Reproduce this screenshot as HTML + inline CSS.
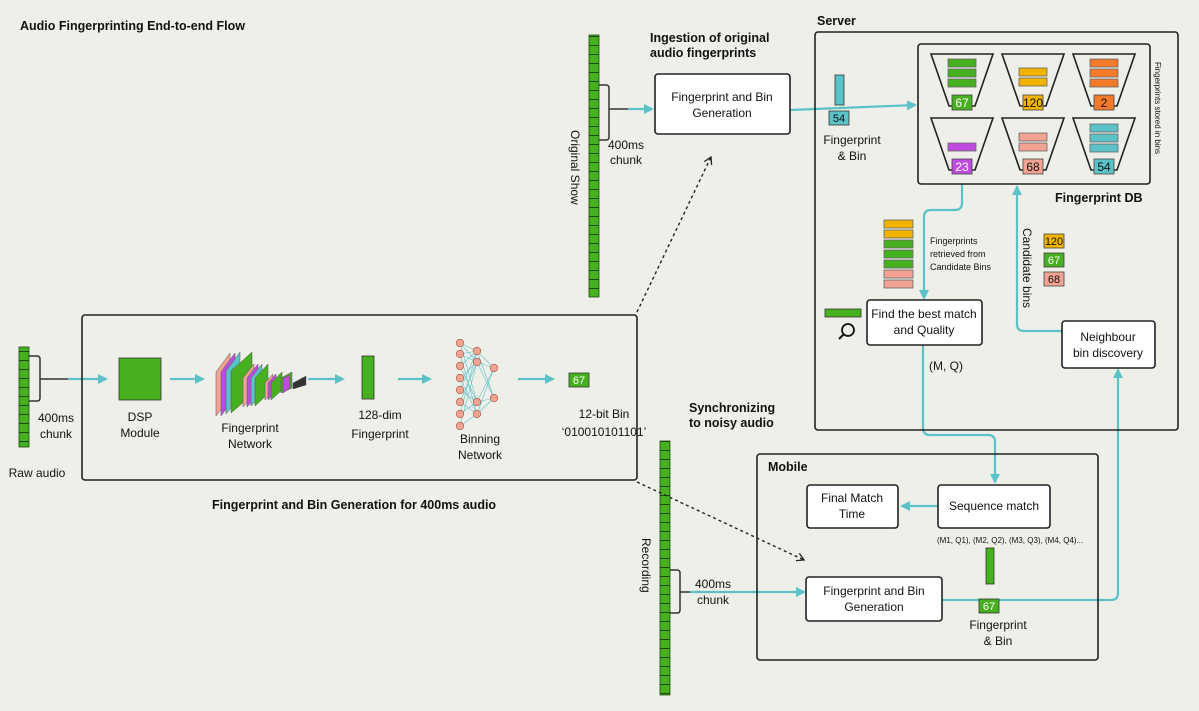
<!DOCTYPE html>
<html><head><meta charset="utf-8"><style>
html,body{margin:0;padding:0;background:#efefea;}
svg{display:block;font-family:"Liberation Sans",sans-serif;}
</style></head><body>
<svg width="1199" height="711" viewBox="0 0 1199 711" xmlns="http://www.w3.org/2000/svg">
<defs>
<pattern id="seg" width="10" height="9" patternUnits="userSpaceOnUse"><rect width="10" height="9" fill="#46b01f"/><line x1="0" y1="0.5" x2="10" y2="0.5" stroke="#1d4a10" stroke-width="1"/></pattern>
<marker id="ta" markerWidth="10" markerHeight="10" refX="8" refY="5" orient="auto" markerUnits="userSpaceOnUse"><path d="M0,0 L10,5 L0,10 z" fill="#5bc2c8"/></marker>
<marker id="da" markerWidth="10" markerHeight="10" refX="8" refY="5" orient="auto" markerUnits="userSpaceOnUse"><path d="M1,1 L8,5 L1,9" fill="none" stroke="#222" stroke-width="1.3"/></marker>
<path id="trap" d="M-31,0 L31,0 L13,52 L-13,52 Z" fill="none" stroke="#222" stroke-width="1.6"/>
</defs>
<rect width="1199" height="711" fill="#efefea"/>
<g font-weight="bold" font-size="12.5" fill="#111">
<text x="20" y="30">Audio Fingerprinting End-to-end Flow</text>
<text x="650" y="42">Ingestion of original</text>
<text x="650" y="57">audio fingerprints</text>
<text x="817" y="25">Server</text>
<text x="1055" y="202">Fingerprint DB</text>
<text x="689" y="412">Synchronizing</text>
<text x="689" y="427">to noisy audio</text>
<text x="768" y="471">Mobile</text>
<text x="212" y="509">Fingerprint and Bin Generation for 400ms audio</text>
</g>

<!-- strips -->
<rect x="589" y="35" width="10" height="262" fill="url(#seg)" stroke="#1d4a10" stroke-width="0.8"/>
<rect x="660" y="441" width="10" height="254" fill="url(#seg)" stroke="#1d4a10" stroke-width="0.8"/>
<rect x="19" y="347" width="10" height="100" fill="url(#seg)" stroke="#1d4a10" stroke-width="0.8"/>

<g fill="none" stroke="#333" stroke-width="1.5">
<path d="M599,85 H606 Q609,85 609,88 V137 Q609,140 606,140 H599"/>
<path d="M609,109 H628"/>
<path d="M670,570 H677 Q680,570 680,573 V610 Q680,613 677,613 H670"/>
<path d="M680,592 H690"/>
<path d="M29,356 H37 Q40,356 40,359 V398 Q40,401 37,401 H29"/>
<path d="M40,379 H68"/>
</g>
<g font-size="12" fill="#111" text-anchor="middle">
<text x="626" y="149">400ms</text><text x="626" y="164">chunk</text>
<text x="713" y="588">400ms</text><text x="713" y="604">chunk</text>
<text x="56" y="422">400ms</text><text x="56" y="438">chunk</text>
<text x="37" y="477">Raw audio</text>
</g>
<text transform="translate(571,130) rotate(90)" font-size="12" fill="#111">Original Show</text>
<text transform="translate(642,538) rotate(90)" font-size="12" fill="#111">Recording</text>

<!-- teal connectors -->
<g fill="none" stroke="#5bc2c8" stroke-width="2.2">
<path d="M628,109 H652" marker-end="url(#ta)"/>
<path d="M690,592 H804" marker-end="url(#ta)"/>
<path d="M68,379 H106" marker-end="url(#ta)"/>
<path d="M170,379 H203" marker-end="url(#ta)"/>
<path d="M308,379 H343" marker-end="url(#ta)"/>
<path d="M398,379 H430" marker-end="url(#ta)"/>
<path d="M518,379 H553" marker-end="url(#ta)"/>
<path d="M790,110 L915,105" marker-end="url(#ta)"/>
<path d="M962,184 V203 Q962,210 955,210 H931 Q924,210 924,217 V298" marker-end="url(#ta)"/>
<path d="M1062,331 H1024 Q1017,331 1017,324 V187" marker-end="url(#ta)"/>
<path d="M923,345 V428 Q923,435 930,435 H988 Q995,435 995,442 V482" marker-end="url(#ta)"/>
<path d="M938,506 H902" marker-end="url(#ta)"/>
<path d="M942,600 H1111 Q1118,600 1118,593 V370" marker-end="url(#ta)"/>
</g>
<g fill="none" stroke="#222" stroke-width="1.4" stroke-dasharray="3,3">
<path d="M637,312 L711,157" marker-end="url(#da)"/>
<path d="M637,482 L804,560" marker-end="url(#da)"/>
</g>

<!-- boxes -->
<g fill="none" stroke="#222" stroke-width="1.6">
<rect x="82" y="315" width="555" height="165" rx="3"/>
<rect x="815" y="32" width="363" height="398" rx="3"/>
<rect x="918" y="44" width="232" height="140" rx="3"/>
<rect x="757" y="454" width="341" height="206" rx="3"/>
</g>
<g fill="#fff" stroke="#222" stroke-width="1.6">
<rect x="655" y="74" width="135" height="60" rx="3"/>
<rect x="867" y="300" width="115" height="45" rx="3"/>
<rect x="1062" y="321" width="93" height="47" rx="3"/>
<rect x="807" y="485" width="91" height="43" rx="3"/>
<rect x="938" y="485" width="112" height="43" rx="3"/>
<rect x="806" y="577" width="136" height="44" rx="3"/>
</g>
<g font-size="12" fill="#111" text-anchor="middle">
<text x="722" y="101">Fingerprint and Bin</text><text x="722" y="117">Generation</text>
<text x="924" y="318">Find the best match</text><text x="924" y="334">and Quality</text>
<text x="1108" y="341">Neighbour</text><text x="1108" y="357">bin discovery</text>
<text x="852" y="502">Final Match</text><text x="852" y="518">Time</text>
<text x="994" y="510">Sequence match</text>
<text x="874" y="595">Fingerprint and Bin</text><text x="874" y="611">Generation</text>
<text x="852" y="144">Fingerprint</text><text x="852" y="160">&amp; Bin</text>
<text x="998" y="629">Fingerprint</text><text x="998" y="645">&amp; Bin</text>
<text x="946" y="370">(M, Q)</text>
<text x="140" y="421">DSP</text><text x="140" y="437">Module</text>
<text x="250" y="432">Fingerprint</text><text x="250" y="448">Network</text>
<text x="380" y="419">128-dim</text><text x="380" y="438">Fingerprint</text>
<text x="480" y="443">Binning</text><text x="480" y="459">Network</text>
<text x="604" y="418">12-bit Bin</text><text x="604" y="436">‘010010101101’</text>
</g>
<text x="937" y="543" font-size="8" fill="#111">(M1, Q1), (M2, Q2), (M3, Q3), (M4, Q4)...</text>
<g font-size="9" fill="#111"><text x="930" y="244">Fingerprints</text><text x="930" y="257">retrieved from</text><text x="930" y="270">Candidate Bins</text></g>
<text transform="translate(1155,62) rotate(90)" font-size="8" fill="#111">Fingerprints stored in bins</text>
<text transform="translate(1023,228) rotate(90)" font-size="12" fill="#111">Candidate bins</text>

<!-- small elements -->
<rect x="835" y="75" width="9" height="30" fill="#5bc2c8" stroke="#333" stroke-width="0.8"/>
<rect x="829" y="111" width="20" height="14" fill="#5bc2c8" stroke="#333" stroke-width="0.8"/><text x="839" y="122" font-size="11" text-anchor="middle" fill="#111">54</text>
<rect x="986" y="548" width="8" height="36" fill="#46b01f" stroke="#333" stroke-width="0.8"/>
<rect x="979" y="599" width="20" height="14" fill="#46b01f" stroke="#333" stroke-width="0.8"/><text x="989" y="610" font-size="11" text-anchor="middle" fill="#fff">67</text>
<rect x="569" y="373" width="20" height="14" fill="#46b01f" stroke="#333" stroke-width="0.8"/><text x="579" y="384" font-size="11" text-anchor="middle" fill="#fff">67</text>
<rect x="119" y="358" width="42" height="42" fill="#46b01f" stroke="#333" stroke-width="0.8"/>
<rect x="362" y="356" width="12" height="43" fill="#46b01f" stroke="#333" stroke-width="0.8"/>
<rect x="825" y="309" width="36" height="8" fill="#46b01f" stroke="#333" stroke-width="0.8"/>
<circle cx="848" cy="330" r="6" fill="none" stroke="#111" stroke-width="1.8"/><line x1="844" y1="334" x2="839" y2="339" stroke="#111" stroke-width="2"/>
<g stroke="#666" stroke-width="0.8">
<rect x="884" y="220" width="29" height="8" fill="#f0b400"/><rect x="884" y="230" width="29" height="8" fill="#f0b400"/>
<rect x="884" y="240" width="29" height="8" fill="#46b01f"/><rect x="884" y="250" width="29" height="8" fill="#46b01f"/><rect x="884" y="260" width="29" height="8" fill="#46b01f"/>
<rect x="884" y="270" width="29" height="8" fill="#f2a391"/><rect x="884" y="280" width="29" height="8" fill="#f2a391"/>
</g>
<g stroke="#444" stroke-width="0.8" font-size="11" text-anchor="middle">
<rect x="1044" y="234" width="20" height="14" fill="#f0b400"/><text x="1054" y="245" fill="#111" stroke="none">120</text>
<rect x="1044" y="253" width="20" height="14" fill="#46b01f"/><text x="1054" y="264" fill="#fff" stroke="none">67</text>
<rect x="1044" y="272" width="20" height="14" fill="#f2a391"/><text x="1054" y="283" fill="#111" stroke="none">68</text>
</g>

<!-- DB trapezoids -->
<g>
<use href="#trap" x="962" y="54"/><use href="#trap" x="1033" y="54"/><use href="#trap" x="1104" y="54"/>
<use href="#trap" x="962" y="118"/><use href="#trap" x="1033" y="118"/><use href="#trap" x="1104" y="118"/>
</g>
<g stroke="#666" stroke-width="0.8">
<rect x="948" y="59" width="28" height="8" fill="#46b01f"/><rect x="948" y="69" width="28" height="8" fill="#46b01f"/><rect x="948" y="79" width="28" height="8" fill="#46b01f"/>
<rect x="1019" y="68" width="28" height="8" fill="#f0b400"/><rect x="1019" y="78" width="28" height="8" fill="#f0b400"/>
<rect x="1090" y="59" width="28" height="8" fill="#f47a2a"/><rect x="1090" y="69" width="28" height="8" fill="#f47a2a"/><rect x="1090" y="79" width="28" height="8" fill="#f47a2a"/>
<rect x="948" y="143" width="28" height="8" fill="#c04be0"/>
<rect x="1019" y="133" width="28" height="8" fill="#f2a391"/><rect x="1019" y="143" width="28" height="8" fill="#f2a391"/>
<rect x="1090" y="124" width="28" height="8" fill="#5bc2c8"/><rect x="1090" y="134" width="28" height="8" fill="#5bc2c8"/><rect x="1090" y="144" width="28" height="8" fill="#5bc2c8"/>
</g>
<g stroke="#444" stroke-width="0.8" font-size="12" text-anchor="middle">
<rect x="952" y="95" width="20" height="15" fill="#46b01f"/><text x="962" y="107" fill="#fff" stroke="none">67</text>
<rect x="1023" y="95" width="20" height="15" fill="#f0b400"/><text x="1033" y="107" fill="#111" stroke="none">120</text>
<rect x="1094" y="95" width="20" height="15" fill="#f47a2a"/><text x="1104" y="107" fill="#111" stroke="none">2</text>
<rect x="952" y="159" width="20" height="15" fill="#c04be0"/><text x="962" y="171" fill="#fff" stroke="none">23</text>
<rect x="1023" y="159" width="20" height="15" fill="#f2a391"/><text x="1033" y="171" fill="#111" stroke="none">68</text>
<rect x="1094" y="159" width="20" height="15" fill="#5bc2c8"/><text x="1104" y="171" fill="#111" stroke="none">54</text>
</g>

<!-- fingerprint network layers -->
<g stroke="#555" stroke-width="0.5">
<polygon points="216,372 230,353 230,397 216,416" fill="#f2a391"/>
<polygon points="221,372 235,353 235,397 221,416" fill="#c04be0"/>
<polygon points="226,371 240,352 240,396 226,414" fill="#5bc2c8"/>
<polygon points="231,371 252,352 252,395 231,413" fill="#46b01f"/>
<polygon points="243,378 254,364 254,395 243,407" fill="#f2a391"/>
<polygon points="247,378 258,364 258,395 247,407" fill="#c04be0"/>
<polygon points="251,378 262,364 262,394 251,406" fill="#5bc2c8"/>
<polygon points="255,378 268,364 268,394 255,406" fill="#46b01f"/>
<polygon points="265,383 273,374 273,391 265,400" fill="#f2a391"/>
<polygon points="268,383 276,374 276,391 268,400" fill="#c04be0"/>
<polygon points="271,383 282,372 282,390 271,400" fill="#46b01f"/>
<polygon points="281,378 292,372 292,388 281,393" fill="#46b01f"/>
<polygon points="283,378 290,375 290,388 283,393" fill="#c04be0"/>
<polygon points="293,383 306,376 306,385 293,389" fill="#333"/>
</g>

<!-- binning network -->
<g stroke="#5bc2c8" stroke-width="0.6">
<path d="M460,343 L477,351 M460,343 L477,362 M460,354 L477,351 M460,354 L477,362 M460,366 L477,351 M460,366 L477,402 M460,378 L477,362 M460,378 L477,414 M460,390 L477,351 M460,390 L477,402 M460,402 L477,362 M460,402 L477,414 M460,414 L477,351 M460,414 L477,402 M460,426 L477,414 M460,426 L477,362 M460,354 L477,414 M460,343 L477,402"/>
<path d="M477,351 L494,368 M477,362 L494,368 M477,402 L494,368 M477,414 L494,368 M477,351 L494,398 M477,362 L494,398 M477,402 L494,398 M477,414 L494,398"/>
</g>
<g fill="#f2a391" stroke="#a0553f" stroke-width="0.6">
<circle cx="460" cy="343" r="3.8"/><circle cx="460" cy="354" r="3.8"/><circle cx="460" cy="366" r="3.8"/><circle cx="460" cy="378" r="3.8"/><circle cx="460" cy="390" r="3.8"/><circle cx="460" cy="402" r="3.8"/><circle cx="460" cy="414" r="3.8"/><circle cx="460" cy="426" r="3.8"/>
<circle cx="477" cy="351" r="3.8"/><circle cx="477" cy="362" r="3.8"/><circle cx="477" cy="402" r="3.8"/><circle cx="477" cy="414" r="3.8"/>
<circle cx="494" cy="368" r="3.8"/><circle cx="494" cy="398" r="3.8"/>
</g>
</svg>
</body></html>
